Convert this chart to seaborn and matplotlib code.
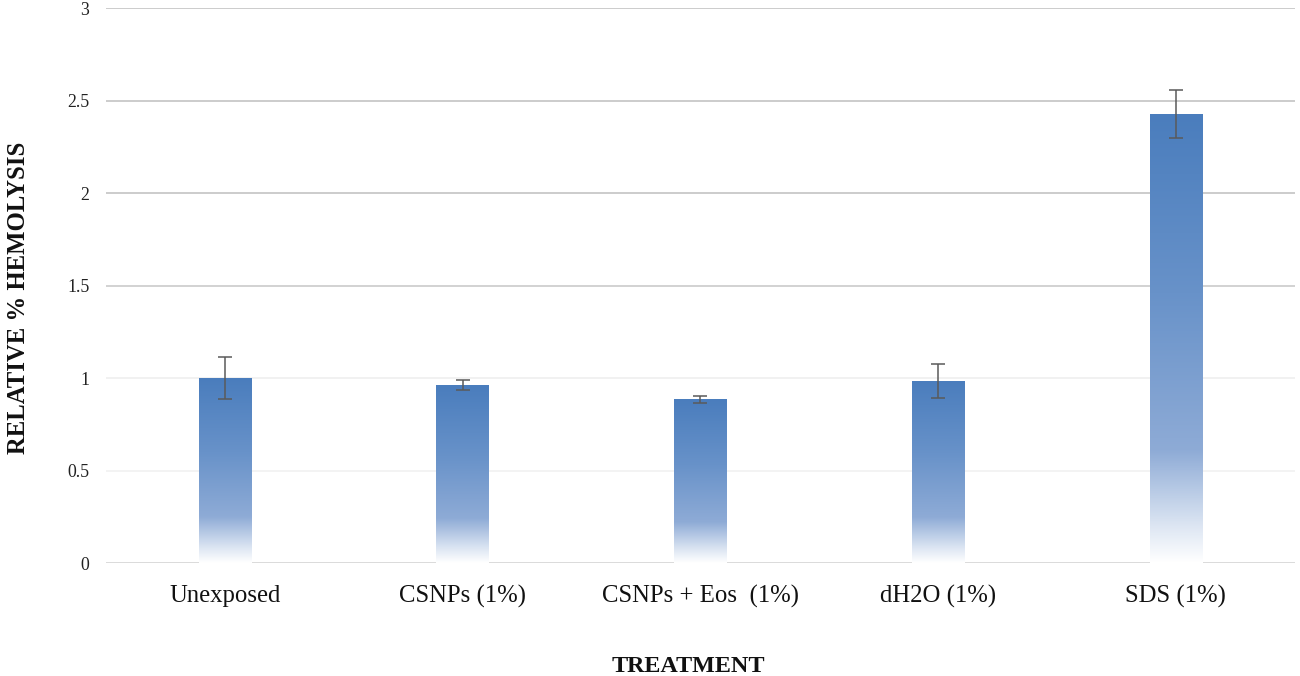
import numpy as np
import pandas as pd
import matplotlib
matplotlib.use("Agg")
import matplotlib.pyplot as plt
import seaborn as sns
from matplotlib.colors import LinearSegmentedColormap

categories = ["Unexposed", "CSNPs (1%)", "CSNPs + Eos  (1%)", "dH2O (1%)", "SDS (1%)"]
values = [1.0, 0.962, 0.885, 0.985, 2.43]
errors = [0.115, 0.027, 0.02, 0.09, 0.13]
y_ticks = [0, 0.5, 1, 1.5, 2, 2.5, 3]
y_tick_labels = ["0", "0.5", "1", "1.5", "2", "2.5", "3"]

sns.set_theme(style="white")
plt.rcParams['font.family'] = ['Liberation Serif', 'DejaVu Serif']

fig = plt.figure(figsize=(13, 6.76), dpi=100)
ax = fig.add_axes([0.0815, 0.167, 0.9145, 0.821])

df = pd.DataFrame({"Treatment": categories, "Value": values})
sns.barplot(data=df, x="Treatment", y="Value", ax=ax, color="#4f81bd",
            width=0.22, errorbar=None)

# gradient fill: solid-ish blue top fading to white in bottom quarter
cmap = LinearSegmentedColormap.from_list(
    "grad", [(0.0, "#ffffff"), (0.08, "#dde6f3"), (0.25, "#8eabd6"),
             (0.6, "#6892c9"), (1.0, "#4a7dbd")])
grad = np.linspace(0, 1, 256).reshape(-1, 1)
for p in ax.patches:
    x0, w, h = p.get_x(), p.get_width(), p.get_height()
    im = ax.imshow(grad, cmap=cmap, origin="lower", aspect="auto",
                   extent=[x0, x0 + w, 0, h], zorder=2)
    im.set_clip_path(p)
    p.set_facecolor("none")
    p.set_edgecolor("none")

xs = [p.get_x() + p.get_width() / 2 for p in ax.patches]
ax.errorbar(xs, values, yerr=errors, fmt="none", ecolor="#5a5a5a",
            elinewidth=1.1, capsize=5, capthick=1.1, zorder=3)

ax.set_xlim(-0.5, len(categories) - 0.5)
ax.set_ylim(0, 3)
ax.set_yticks(y_ticks)
ax.set_yticklabels(y_tick_labels)
ax.yaxis.grid(True, linewidth=1.3)
ax.set_axisbelow(True)
grid_colors = ["#d8d8d8", "#f2f2f2", "#f0f0f0", "#cfcfcf", "#c8c8c8", "#c8c8c8", "#c8c8c8"]
for gl, c in zip(ax.get_ygridlines(), grid_colors):
    gl.set_color(c)

for s in ["top", "right", "left", "bottom"]:
    ax.spines[s].set_visible(False)

ax.tick_params(axis="y", labelsize=12.8, length=0, pad=12, colors="#222222")
ax.tick_params(axis="x", labelsize=17.8, length=0, pad=16, colors="#111111")

ax.set_xlabel("TREATMENT", fontsize=17.4, fontweight="bold", color="#111111")
ax.xaxis.set_label_coords(0.49, -0.167)
ax.set_ylabel("RELATIVE % HEMOLYSIS", fontsize=17.8, fontweight="bold", color="#111111")
ax.yaxis.set_label_coords(-0.0635, 0.477)

fig.savefig("out.png", dpi=100, facecolor="white")
